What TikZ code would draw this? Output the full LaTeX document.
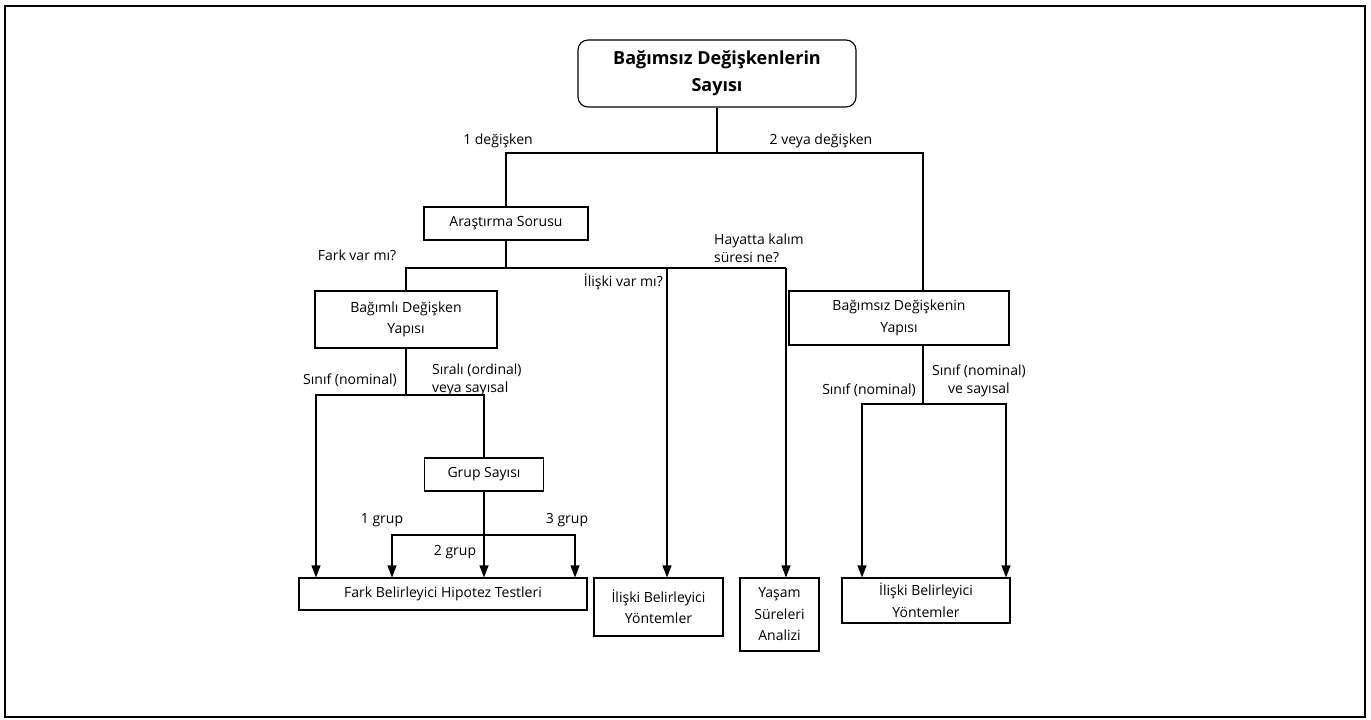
\documentclass[tikz,border=0pt]{standalone}
\usepackage{fontspec}
\setmainfont{Open Sans}
\usetikzlibrary{arrows.meta}

\tikzset{
	box/.style={draw, line width=1.1pt, align=center, inner sep=2pt,
		font=\fontsize{14}{21.5}\selectfont},
	lbl/.style={align=center, inner sep=0pt, font=\fontsize{14}{18}\selectfont},
	conn/.style={line width=1.1pt},
	arr/.style={conn, -{Triangle[length=12pt,width=9pt]}},
}

\begin{document}
\begin{tikzpicture}[x=1pt,y=-1pt]

	\useasboundingbox (0,0) rectangle (1371,720);
	\draw[line width=1.2pt] (5,6) rectangle (1365,717);

	\node[box, rounded corners=10pt, minimum width=278pt, minimum height=67pt,
		font=\bfseries\fontsize{18}{27}\selectfont] (sayi) at (717,73.5)
		{Bağımsız Değişkenlerin\\Sayısı};
	\node[box, minimum width=164pt, minimum height=33pt] (ara) at (506,223.5) {Araştırma Sorusu};
	\node[box, minimum width=182pt, minimum height=57pt] (bagimli) at (406,319.5) {Bağımlı Değişken\\Yapısı};
	\node[box, minimum width=220pt, minimum height=54pt] (bgmsz) at (899,318) {Bağımsız Değişkenin\\Yapısı};
	\node[box, minimum width=119pt, minimum height=33pt] (grup) at (484,474.5) {Grup Sayısı};

	\node[box, minimum width=288pt, minimum height=32pt] (fark) at (443,594) {Fark Belirleyici Hipotez Testleri};
	\node[box, minimum width=129pt, minimum height=58pt] (ilsk1) at (658.5,607) {İlişki Belirleyici\\Yöntemler};
	\node[box, minimum width=79pt, minimum height=73pt] (yasam) at (779.5,614.5) {Yaşam\\Süreleri\\Analizi};
	\node[box, minimum width=168pt, minimum height=45pt] (ilsk2) at (926,600.5) {İlişki Belirleyici\\Yöntemler};

	\coordinate (j1) at (717,153);
	\coordinate (j2) at (506,268);
	\coordinate (j3) at (406,395);
	\coordinate (j4) at (484,535);
	\coordinate (j5) at (923,404);

	\coordinate (a1) at (667,268);
	\coordinate (a2) at (786,268);
	\coordinate (b1) at (316,395);
	\coordinate (c1) at (392,535);
	\coordinate (c2) at (575,535);
	\coordinate (d1) at (862,404);
	\coordinate (d2) at (1006,404);

	% top split
	\draw[conn] (sayi) -- (j1);
	\draw[conn] (ara) |- (j1) -| (j5 |- bgmsz.north);

	% research question
	\draw[conn] (ara) -- (j2);
	\draw[conn] (bagimli) |- (a2);
	\draw[arr] (a1) -- (a1 |- ilsk1.north);
	\draw[arr] (a2) -- (a2 |- yasam.north);

	% dependent variable
	\draw[conn] (bagimli) -- (j3);
	\draw[arr] (j3) -| (b1 |- fark.north);
	\draw[conn] (j3) -| (grup);
	\draw[arr] (grup) -- (grup |- fark.north);
	\draw[arr] (j4) -| (c1 |- fark.north);
	\draw[arr] (j4) -| (c2 |- fark.north);

	% independent variable
	\draw[conn] (j5 |- bgmsz.south) -- (j5);
	\draw[arr] (j5) -| (d1 |- ilsk2.north);
	\draw[arr] (j5) -| (d2 |- ilsk2.north);

	\node[lbl] (l1) at (498,141) {1 değişken};
	\node[lbl] (l2) at (821,141) {2 veya değişken};
	\node[lbl] (l3) at (357,255) {Fark var mı?};
	\node[lbl, anchor=east] (l4) at (663,282) {İlişki var mı?};
	\node[lbl, anchor=west, align=left] (l5) at (714,248) {Hayatta kalım\\süresi ne?};
	\node[lbl, anchor=east] (l6) at (397,380) {Sınıf (nominal)};
	\node[lbl, anchor=west, align=left] (l7) at (432,380) {Sıralı (ordinal)\\veya sayısal};
	\node[lbl] (l8) at (382,520) {1 grup};
	\node[lbl] (l9) at (567,520) {3 grup};
	\node[lbl] (l10) at (455,552) {2 grup};
	\node[lbl, anchor=east] (l11) at (916,390) {Sınıf (nominal)};
	\node[lbl] (l12) at (979,381) {Sınıf (nominal)\\ve sayısal};

\end{tikzpicture}
\end{document}
